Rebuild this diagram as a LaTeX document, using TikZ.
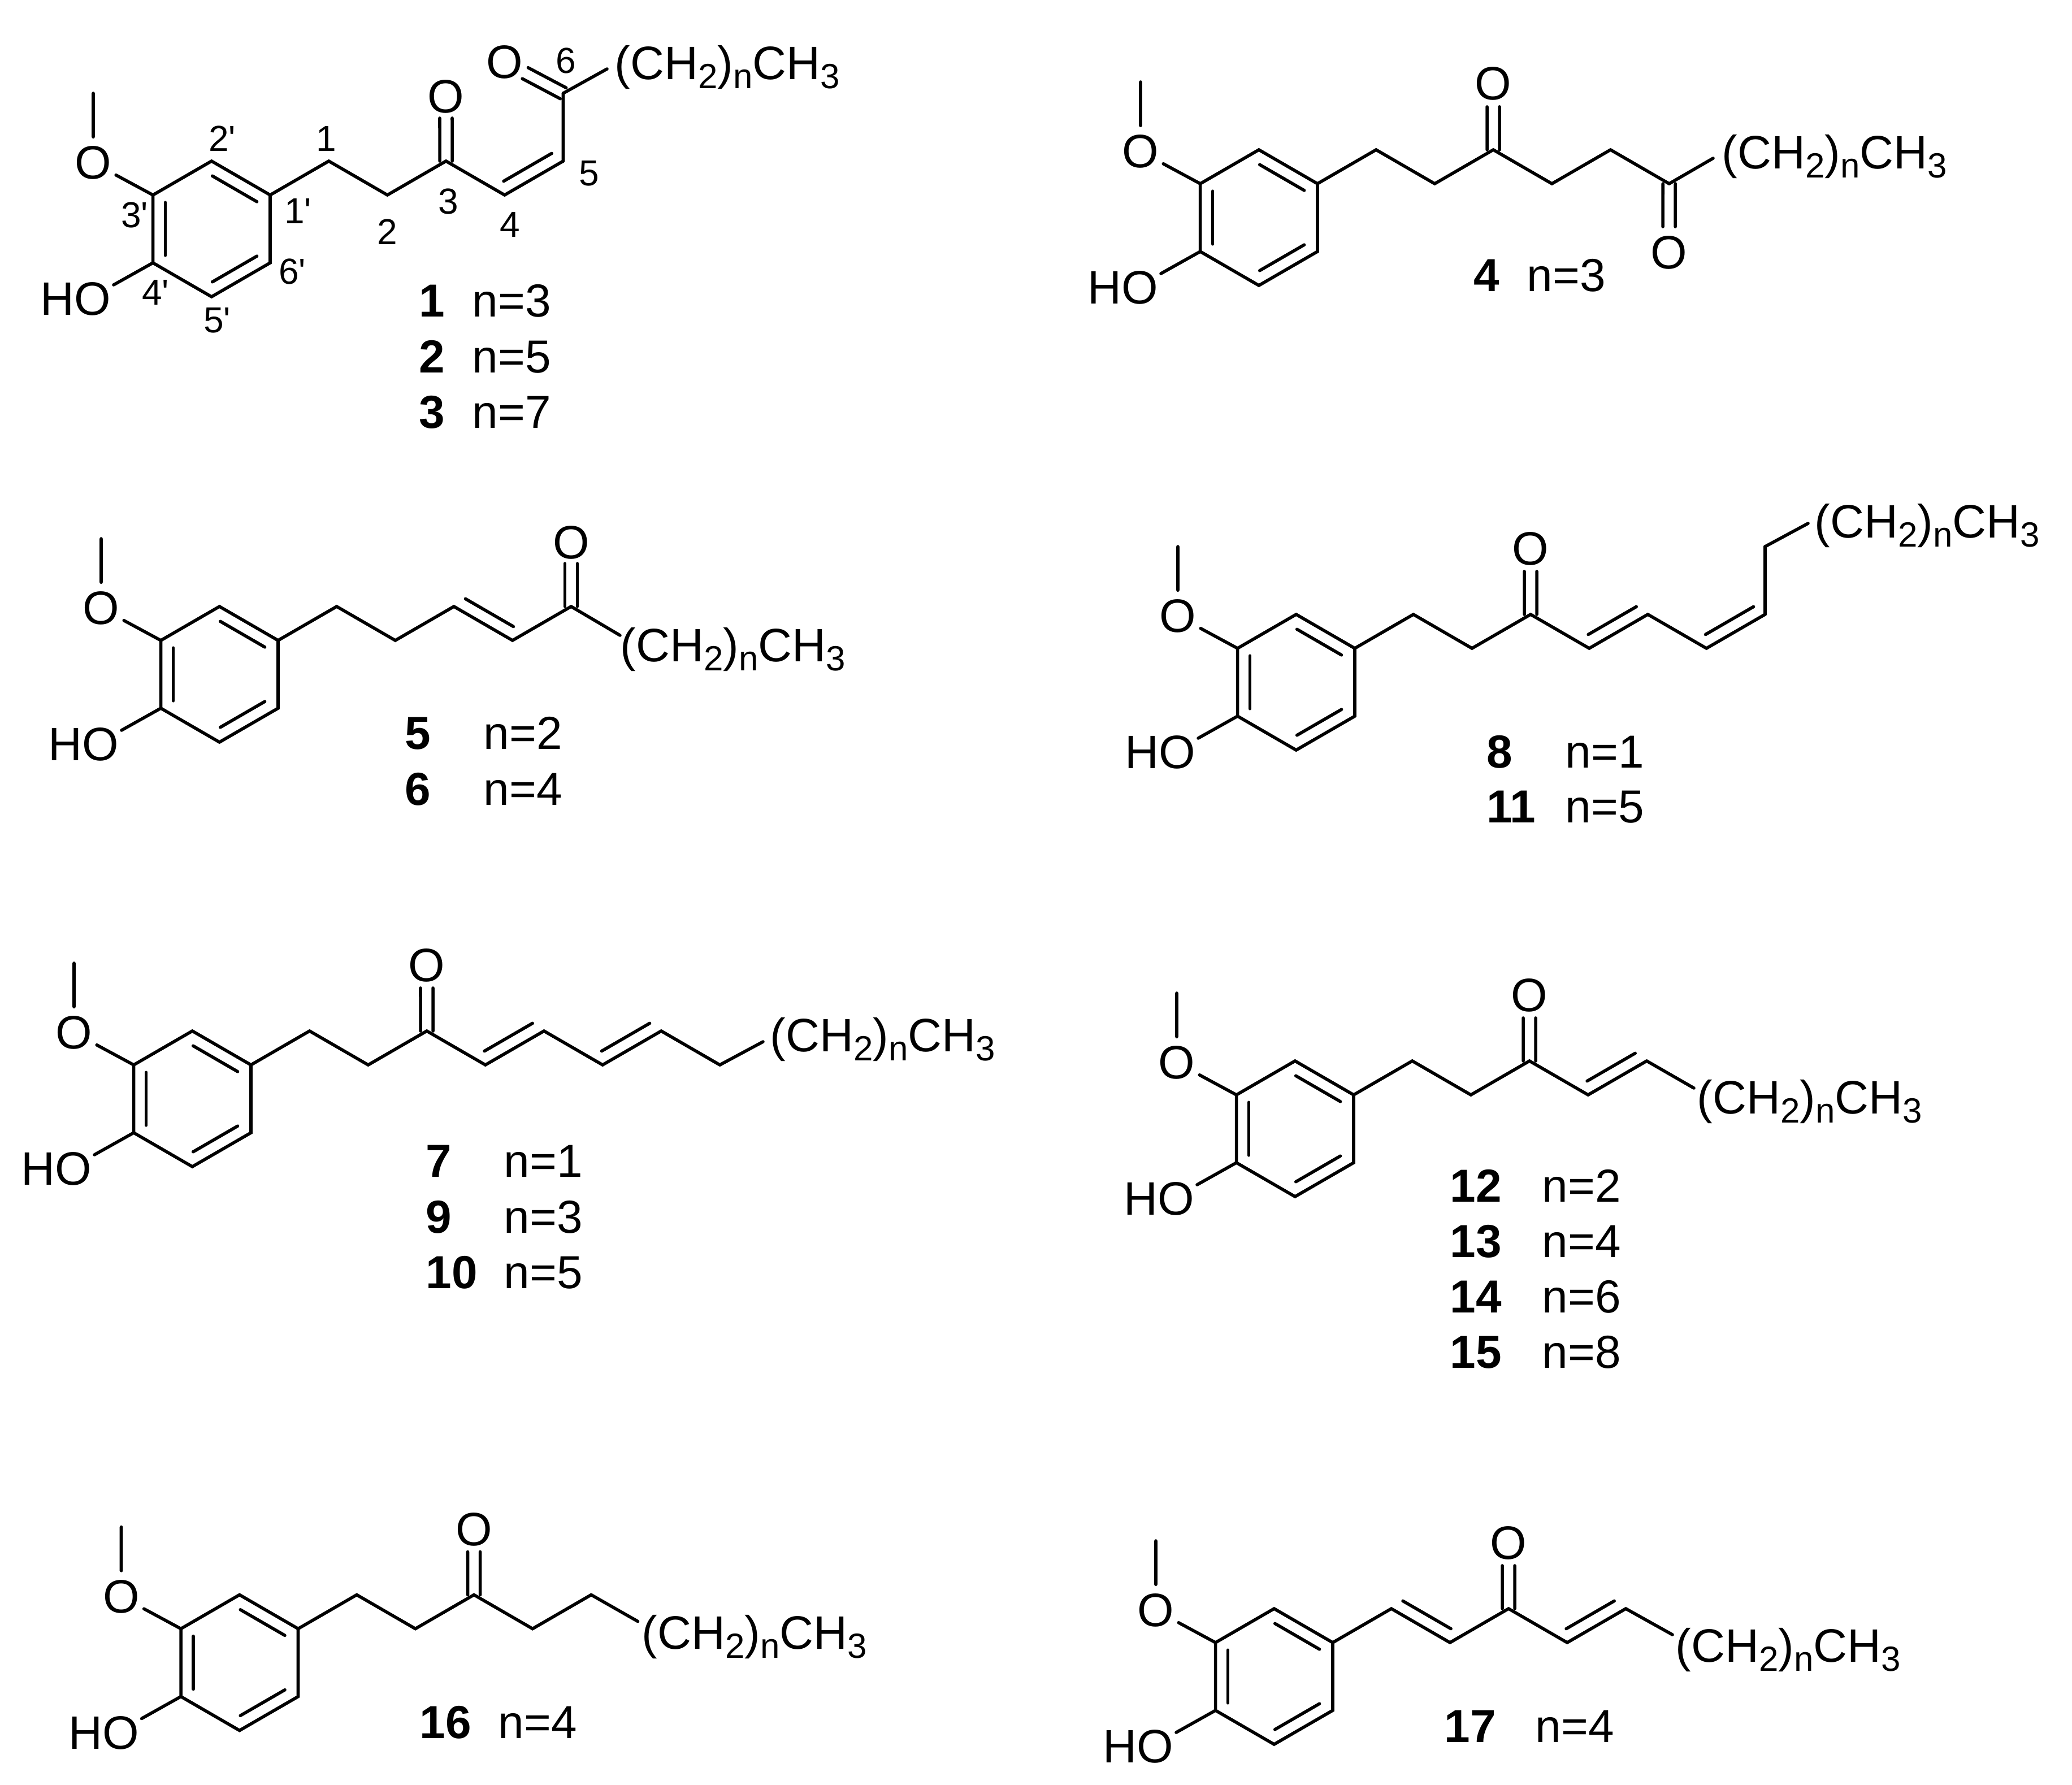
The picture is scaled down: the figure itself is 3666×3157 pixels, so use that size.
\documentclass[tikz,border=0pt]{standalone}
\usepackage{fontspec}
\setmainfont[Ligatures=TeXOff]{Liberation Sans}
\usetikzlibrary{calc}
\newcommand\subd[1]{\raisebox{-4.7pt}{\fontsize{17.6}{20}\selectfont #1}}
\newcommand\chainstr{(CH\subd{2})\subd{n}CH\subd{3}}
\tikzset{
  bond/.style={line width=.056cm,line cap=round,line join=miter,black},
  atom/.style={circle,inner sep=0pt,minimum size=.9cm,font=\fontsize{23.6}{28}\selectfont},
  grp/.style={inner sep=0pt,font=\fontsize{23.6}{28}\selectfont},
  num/.style={inner sep=0pt,anchor=center,font=\fontsize{18.2}{22}\selectfont},
  cmpd/.style={inner sep=0pt,anchor=base west,font=\fontsize{23.3}{28}\selectfont\bfseries},
  val/.style={inner sep=0pt,anchor=base west,font=\fontsize{23.3}{28}\selectfont}
}
% inner line of a C=C, on the left of the direction A to B
\newcommand\dbl[3]{\draw[bond] ($(#1)!#3!(#2)!.22cm!90:(#2)$) -- ($(#2)!#3!(#1)!.22cm!-90:(#1)$);}
% C=O: two lines either side of the axis
\newcommand\cdbl[2]{%
  \draw[bond] ($(#1)!.11cm!90:(#2)$) -- ($(#1)!.76cm!(#2)!.11cm!90:(#2)$);
  \draw[bond] ($(#1)!.11cm!-90:(#2)$) -- ($(#1)!.76cm!(#2)!.11cm!-90:(#2)$);}
% guaiacyl ring, origin at C-1'
\newcommand\ringpart{%
  \coordinate (r1) at (0,0);
  \coordinate (r2) at (-103.7,-60);
  \coordinate (r3) at (-207.4,0);
  \coordinate (r4) at (-207.4,120);
  \coordinate (r5) at (-103.7,180);
  \coordinate (r6) at (0,120);
  \draw[bond] (r1) -- (r2) -- (r3) -- (r4) -- (r5) -- (r6) -- cycle;
  \dbl{r1}{r2}{.12}\dbl{r3}{r4}{.11}\dbl{r5}{r6}{.12}
  \node[atom] (om) at (-313,-57) {O};
  \coordinate (me) at (-313,-180);
  \draw[bond] (r3) -- (om) -- (me);
  \node[grp,anchor=east] (ho) at (-281,184) {HO};
  \coordinate (hoend) at (-277,159);
  \draw[bond] (r4) -- (hoend);
}
% zig-zag chain c1..c#1 from the ring
\newcommand\zig[1]{%
  \foreach \i in {1,...,#1}{%
    \pgfmathsetmacro\yy{mod(\i,2)==1 ? -60 : 0}
    \coordinate (c\i) at ({\i*103.7},\yy);
  }
  \draw[bond] (r1) \foreach \i in {1,...,#1}{ -- (c\i)};
}
\newcommand\tail[5]{% from vertex #1, end (#2,#3), text (#4,#5)
  \coordinate (e) at (#2,#3);
  \draw[bond] (#1) -- (e);
  \node[grp,anchor=base west] (tailtext) at (#4,#5) {\chainstr};
}
\newcommand\entry[5]{%
  \node[cmpd] (cmpd#3) at (#1,#2) {#3};
  \node[val] (val#3) at (#4,#2) {#5};
}
\begin{document}
\begin{tikzpicture}[x=.01cm,y=-.01cm]
\useasboundingbox (0,0) rectangle (3666,3157);
\fill[white] (0,0) rectangle (3666,3157);

% 1-3
\begin{scope}[shift={(478,345)},name prefix=ma-]
  \ringpart \zig{5}
  \coordinate (c6) at (518.5,-180);
  \draw[bond] (c5) -- (c6);
  \dbl{c4}{c5}{.09}
  \node[atom] (o3) at (311,-174) {O}; \cdbl{c3}{o3}
  \node[atom] (o6) at (414.5,-235) {O}; \cdbl{c6}{o6}
  \tail{c6}{596}{-223}{609}{-205}
  \node[num] (p2) at (-85,-100) {2'};
  \node[num] (n1) at (99,-100) {1};
  \node[num] (p3) at (-240,35) {3'};
  \node[num] (p1) at (49,28) {1'};
  \node[num] (n2) at (207,65) {2};
  \node[num] (n3) at (315,11) {3};
  \node[num] (n4) at (424,52) {4};
  \node[num] (n5) at (564,-38) {5};
  \node[num] (n6) at (523,-238) {6};
  \node[num] (p6) at (39,135) {6'};
  \node[num] (p4) at (-203,172) {4'};
  \node[num] (p5) at (-94,222) {5'};
\end{scope}
\entry{741}{560}{1}{835}{n=3}
\entry{741}{659}{2}{835}{n=5}
\entry{741}{757}{3}{835}{n=7}

% 4
\begin{scope}[shift={(2331,325)},name prefix=mb-]
  \ringpart \zig{6}
  \node[atom] (o3) at (311,-177) {O}; \cdbl{c3}{o3}
  \node[atom] (o6) at (622,122) {O}; \cdbl{c6}{o6}
  \tail{c6}{700}{-45}{715}{-27}
\end{scope}
\entry{2607}{515}{4}{2701}{n=3}

% 5, 6
\begin{scope}[shift={(492,1133)},name prefix=mc-]
  \ringpart \zig{5}
  \dbl{c3}{c4}{.09}
  \node[atom] (o5) at (518.5,-173) {O}; \cdbl{c5}{o5}
  \tail{c5}{605}{-9}{605}{37}
\end{scope}
\entry{716}{1325}{5}{855}{n=2}
\entry{716}{1424}{6}{855}{n=4}

% 8, 11
\begin{scope}[shift={(2397,1147)},name prefix=md-]
  \ringpart \zig{7}
  \coordinate (c8) at (725.9,-180);
  \draw[bond] (c7) -- (c8);
  \dbl{c4}{c5}{.09}\dbl{c6}{c7}{.09}
  \node[atom] (o3) at (311,-176) {O}; \cdbl{c3}{o3}
  \tail{c8}{802}{-221}{813}{-196}
\end{scope}
\entry{2630}{1358}{8}{2769}{n=1}
\entry{2630}{1455}{11}{2769}{n=5}

% 7, 9, 10
\begin{scope}[shift={(444,1884)},name prefix=me-]
  \ringpart \zig{8}
  \dbl{c4}{c5}{.09}\dbl{c6}{c7}{.09}
  \node[atom] (o3) at (311,-176) {O}; \cdbl{c3}{o3}
  \tail{c8}{906}{-41}{918}{-24}
\end{scope}
\entry{753}{2082}{7}{891}{n=1}
\entry{753}{2181}{9}{891}{n=3}
\entry{753}{2279}{10}{891}{n=5}

% 12-15
\begin{scope}[shift={(2395,1937)},name prefix=mf-]
  \ringpart \zig{5}
  \dbl{c4}{c5}{.09}
  \node[atom] (o3) at (311,-176) {O}; \cdbl{c3}{o3}
  \tail{c5}{602}{-12}{607}{33}
\end{scope}
\entry{2565}{2126}{12}{2728}{n=2}
\entry{2565}{2224}{13}{2728}{n=4}
\entry{2565}{2322}{14}{2728}{n=6}
\entry{2565}{2420}{15}{2728}{n=8}

% 16
\begin{scope}[shift={(527.5,2881.5)},name prefix=mg-]
  \ringpart \zig{5}
  \node[atom] (o3) at (311,-176) {O}; \cdbl{c3}{o3}
  \tail{c5}{601}{-13}{607.5}{35.5}
\end{scope}
\entry{742}{3075}{16}{881}{n=4}

% 17
\begin{scope}[shift={(2358,2906)},name prefix=mh-]
  \ringpart \zig{5}
  \dbl{c1}{c2}{.09}\dbl{c4}{c5}{.09}
  \node[atom] (o3) at (311,-176) {O}; \cdbl{c3}{o3}
  \tail{c5}{601}{-14}{606}{34}
\end{scope}
\entry{2555}{3082}{17}{2716}{n=4}
\end{tikzpicture}
\end{document}
